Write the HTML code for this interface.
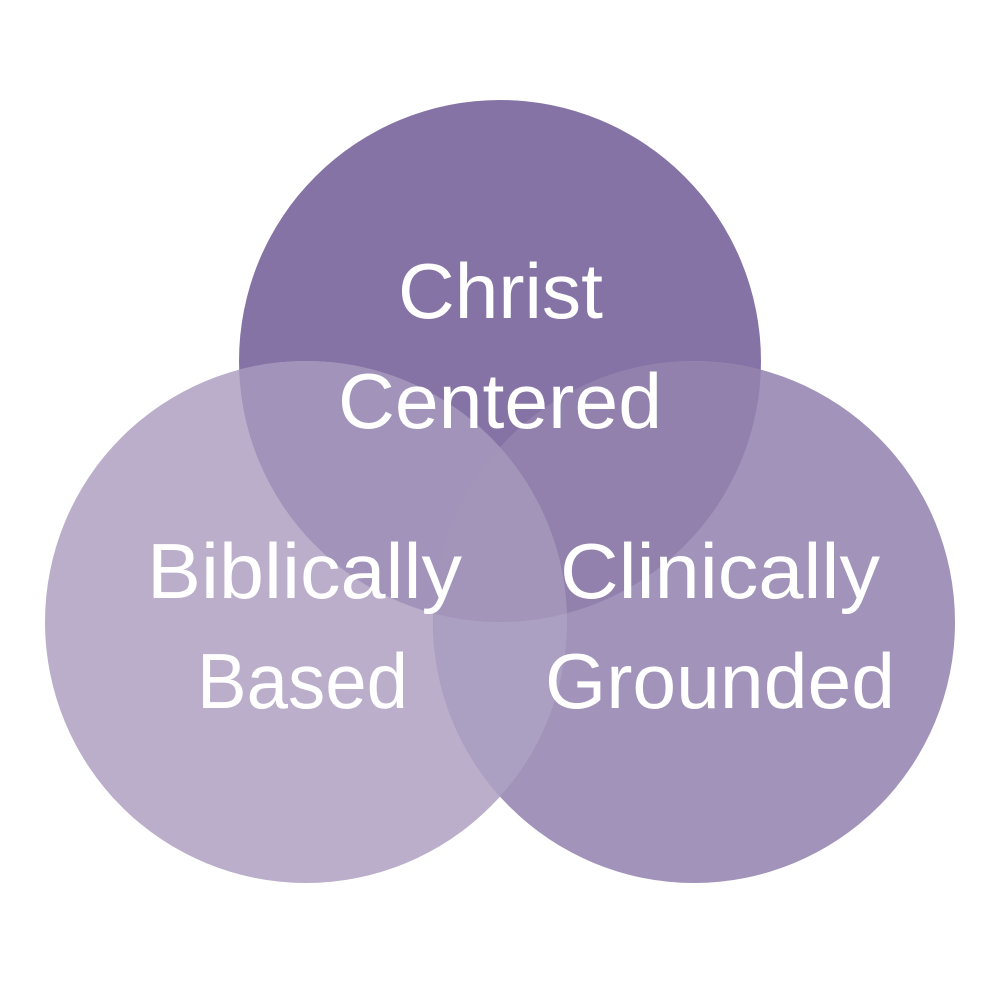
<!DOCTYPE html>
<html><head><meta charset="utf-8"><style>html,body{margin:0;padding:0;background:#fff}</style></head>
<body>
<svg width="1000" height="1000" viewBox="0 0 1000 1000" xmlns="http://www.w3.org/2000/svg">
<defs>
<clipPath id="T"><circle cx="500" cy="361" r="261"/></clipPath>
<clipPath id="L"><circle cx="306" cy="622" r="261"/></clipPath>
<clipPath id="R"><circle cx="694" cy="622" r="261"/></clipPath>
</defs>
<circle cx="500" cy="361" r="261" fill="#8673a6"/>
<circle cx="306" cy="622" r="261" fill="#bbaecb"/>
<circle cx="694" cy="622" r="261" fill="#a193b9"/>
<g clip-path="url(#T)">
<circle cx="306" cy="622" r="261" fill="#a193b9"/>
<circle cx="694" cy="622" r="261" fill="#9281ad"/>
</g>
<g clip-path="url(#L)">
<circle cx="694" cy="622" r="261" fill="#ab9fc2"/>
<g clip-path="url(#T)"><circle cx="694" cy="622" r="261" fill="#a395ba"/></g>
</g>
<g fill="#fff" font-family="Liberation Sans, sans-serif" font-size="78">
<text x="398" y="318" textLength="205" lengthAdjust="spacingAndGlyphs">Christ</text>
<text x="338" y="428" textLength="324" lengthAdjust="spacingAndGlyphs">Centered</text>
<text x="147" y="598" textLength="315" lengthAdjust="spacingAndGlyphs">Biblically</text>
<text x="197" y="708" textLength="211" lengthAdjust="spacingAndGlyphs">Based</text>
<text x="560" y="598" textLength="320" lengthAdjust="spacingAndGlyphs">Clinically</text>
<text x="545" y="708" textLength="350" lengthAdjust="spacingAndGlyphs">Grounded</text>
</g>
</svg>
</body></html>
